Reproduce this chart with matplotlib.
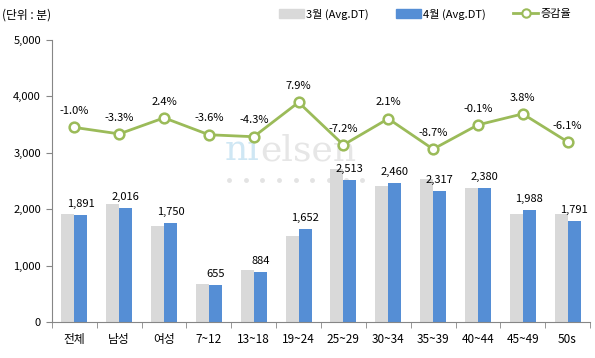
import matplotlib
matplotlib.use("Agg")
import matplotlib.pyplot as plt
import numpy as np
from matplotlib.lines import Line2D
from matplotlib.patches import Patch

plt.rcParams['font.family'] = ['Noto Sans CJK KR', 'DejaVu Sans']

categories = ['전체', '남성', '여성', '7~12', '13~18', '19~24', '25~29', '30~34', '35~39', '40~44', '45~49', '50s']
march = [1910, 2085, 1709, 679, 924, 1531, 2708, 2409, 2538, 2382, 1915, 1907]
april = [1891, 2016, 1750, 655, 884, 1652, 2513, 2460, 2317, 2380, 1988, 1791]
change = [-1.0, -3.3, 2.4, -3.6, -4.3, 7.9, -7.2, 2.1, -8.7, -0.1, 3.8, -6.1]
yticks = [0, 1000, 2000, 3000, 4000, 5000]

gray = '#D9D9D9'
blue = '#558ED5'
green = '#9BBB59'
axcol = '#868686'

fig = plt.figure(figsize=(5.95, 3.58), dpi=100)
ax = fig.add_axes([52/595, 1-322/358, 538/595, 282/358])
x = np.arange(len(categories))
w = 0.29
ax.bar(x - w/2, march, w, color=gray, zorder=2)
ax.bar(x + w/2, april, w, color=blue, zorder=2)
for xi, v in zip(x, april):
    ax.text(xi + w/2, v + 110, f'{v:,}', ha='center', va='bottom', fontsize=8, color='black', zorder=4)

ax.set_xlim(-0.5, len(categories) - 0.5)
ax.set_ylim(0, 5000)
ax.set_yticks(yticks)
ax.set_yticklabels([f'{t:,}' for t in yticks], fontsize=8)
ax.set_xticks(x)
ax.set_xticklabels(categories, fontsize=8.5)
ax.set_xticks(np.arange(-0.5, len(categories)), minor=True)
ax.tick_params(axis='x', which='major', length=0, pad=8)
ax.tick_params(axis='x', which='minor', length=4, color=axcol, direction='out')
ax.tick_params(axis='y', length=4, color=axcol, direction='out', pad=4)
for s in ['top', 'right']:
    ax.spines[s].set_visible(False)
ax.spines['left'].set_color(axcol)
ax.spines['bottom'].set_color(axcol)

# watermark
t_ni = ax.text(3.36, 2872, 'ni', ha='left', va='baseline', fontsize=26, family='DejaVu Serif',
               color='#CFE7F4', zorder=1)
ax.annotate('elsen', xy=(1, 0), xycoords=t_ni, ha='left', va='bottom', fontsize=26,
            family='DejaVu Serif', color='#E6E6E6', zorder=1)
for dx in np.linspace(3.45, 6.42, 9):
    ax.plot(dx, 2518, 'o', color='#E3E3E3', markersize=3.5, markeredgewidth=0, zorder=1)

ax2 = ax.twinx()
ax2.set_ylim(-70, 30)
ax2.plot(x, change, color=green, linewidth=2, marker='o', markersize=7,
         markerfacecolor='white', markeredgecolor=green, markeredgewidth=1.8, zorder=3)
for xi, v in zip(x, change):
    ax2.text(xi, v + 4.0, f'{v:.1f}%', ha='center', va='bottom', fontsize=8, color='black')
ax2.axis('off')

fig.text(2/595, 1-15/358, '(단위 : 분)', fontsize=8.5, ha='left', va='center')

handles = [Patch(color=gray), Patch(color=blue),
           Line2D([0], [0], color=green, linewidth=2, marker='o', markersize=6,
                  markerfacecolor='white', markeredgecolor=green, markeredgewidth=1.5)]
labels = ['3월 (Avg.DT)', '4월 (Avg.DT)', '증감율']
fig.legend(handles, labels, loc='center', bbox_to_anchor=(425/595, 1-14/358), ncol=3,
           frameon=False, fontsize=8, handlelength=2.2, handleheight=0.8,
           handletextpad=0.2, columnspacing=2.5)

fig.savefig('out.png', dpi=100)
